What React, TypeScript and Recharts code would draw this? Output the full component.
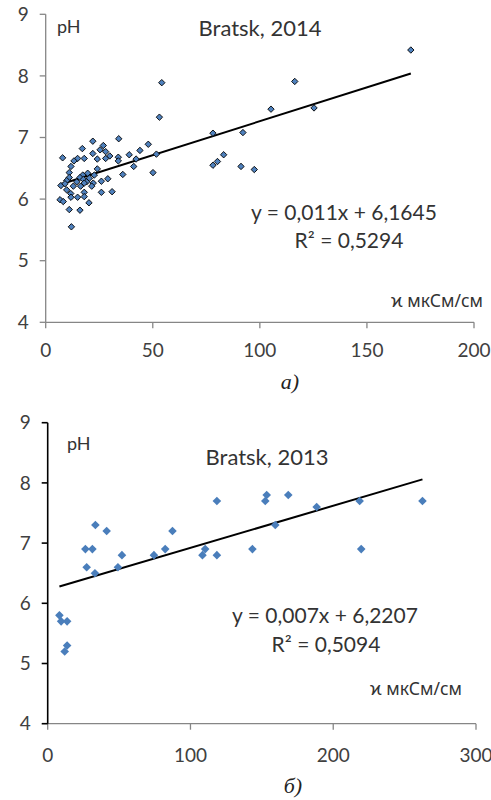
import React from "react";
import { ScatterChart, Scatter, XAxis, YAxis, ReferenceLine } from "recharts";

// ---- Bratsk 2014 (top chart) ----
const x2014 = [
  54.2, 53.1, 22.0, 34.1, 17.1, 26.9, 25.4, 28.0, 22.0, 47.9, 44.0, 7.9, 14.9, 18.0, 13.2, 24.1, 29.9, 28.0, 33.9, 33.9,
  39.0, 42.2, 51.7, 41.1, 11.8, 24.1, 11.0, 36.0, 50.1, 17.3, 19.6, 22.7, 11.0, 16.0, 17.6, 20.4, 29.0, 26.0, 14.5, 9.8,
  19.1, 22.2, 7.1, 9.0, 12.9, 16.3, 18.0, 21.5, 9.8, 11.7, 18.0, 26.0, 31.0, 11.8, 14.9, 18.0, 6.7, 8.2, 20.2, 11.0,
  16.0, 12.0, 170.5, 116.3, 105.2, 125.3, 78.1, 92.1, 83.1, 80.2, 78.1, 91.2, 97.4,
];
const y2014 = [
  7.89, 7.33, 6.94, 6.98, 6.82, 6.87, 6.8, 6.77, 6.74, 6.89, 6.79, 6.67, 6.66, 6.66, 6.62, 6.65, 6.7, 6.66, 6.68, 6.62,
  6.72, 6.65, 6.73, 6.53, 6.53, 6.49, 6.43, 6.4, 6.43, 6.39, 6.42, 6.39, 6.35, 6.35, 6.32, 6.34, 6.33, 6.29, 6.28, 6.3,
  6.28, 6.26, 6.22, 6.25, 6.21, 6.21, 6.26, 6.21, 6.15, 6.09, 6.11, 6.11, 6.12, 6.03, 6.03, 6.04, 5.99, 5.96, 5.94, 5.83,
  5.82, 5.55, 8.42, 7.91, 7.46, 7.48, 7.07, 7.08, 6.72, 6.61, 6.55, 6.53, 6.48,
];
const trend2014 = { slope: 0.011, intercept: 6.1645 };
const xTicks2014 = [0, 50, 100, 150, 200];

// ---- Bratsk 2013 (bottom chart) ----
const x2013 = [
  8.2, 9.4, 13.6, 13.6, 11.9, 33.4, 41.3, 26.4, 31.3, 52.0, 27.3, 33.1, 49.2, 74.4, 82.3, 87.4, 108.4, 110.3, 118.5,
  118.5, 143.4, 153.4, 152.4, 168.5, 159.4, 188.4, 218.5, 219.6, 262.5,
];
const y2013 = [
  5.8, 5.7, 5.7, 5.3, 5.2, 7.3, 7.2, 6.9, 6.9, 6.8, 6.6, 6.5, 6.6, 6.8, 6.9, 7.2, 6.8, 6.9, 6.8, 7.7, 6.9, 7.8, 7.7, 7.8,
  7.3, 7.6, 7.7, 6.9, 7.7,
];
const trend2013 = { slope: 0.007, intercept: 6.2207 };
const xTicks2013 = [0, 100, 200, 300];

const yTicks = [4, 5, 6, 7, 8, 9];

const toPoints = (xs: number[], ys: number[]) => xs.map((x, i) => ({ x, y: ys[i] }));
const trendSegment = (xs: number[], t: { slope: number; intercept: number }) => {
  const x0 = Math.min(...xs);
  const x1 = Math.max(...xs);
  return [
    { x: x0, y: t.slope * x0 + t.intercept },
    { x: x1, y: t.slope * x1 + t.intercept },
  ];
};

const makeDiamond = (r: number, fill: string, stroke: string, sw: number) => (props: any) => {
  const { cx, cy } = props;
  if (cx == null || cy == null) return null;
  return (
    <polygon
      points={`${cx},${cy - r} ${cx + r},${cy} ${cx},${cy + r} ${cx - r},${cy}`}
      fill={fill}
      stroke={stroke}
      strokeWidth={sw}
    />
  );
};

const TICK_FONT = "Lato, 'Noto Sans', sans-serif";
const tickStyle = { fontSize: 19, fill: "#404040", fontFamily: TICK_FONT };

export default function App() {
  const data2014 = toPoints(x2014, y2014);
  const data2013 = toPoints(x2013, y2013);
  return (
    <div style={{ position: "absolute", left: 0, top: 0, width: 491, height: 800, background: "#fff" }}>
      <div style={{ position: "absolute", left: 0, top: 0 }}>
        <ScatterChart width={491} height={360} margin={{ top: 14.3, right: 17, bottom: 0, left: 0 }}>
          <XAxis
            type="number"
            dataKey="x"
            domain={[0, 200]}
            ticks={xTicks2014}
            height={37.7}
            stroke="#868686"
            strokeWidth={1.3}
            tickSize={6}
            tickMargin={15}
            tick={tickStyle}
            interval={0}
          />
          <YAxis
            type="number"
            dataKey="y"
            domain={[4, 9]}
            ticks={yTicks}
            width={45.7}
            stroke="#868686"
            strokeWidth={1.3}
            tickSize={6}
            tickMargin={11}
            tick={tickStyle}
            interval={0}
          />
          <ReferenceLine segment={trendSegment(x2014, trend2014)} stroke="#000" strokeWidth={2} ifOverflow="visible" />
          <Scatter data={data2014} isAnimationActive={false} shape={makeDiamond(3.2, "#4F81BD", "#000", 0.9)} />
        </ScatterChart>
      </div>
      <div style={{ position: "absolute", left: 0, top: 408 }}>
        <ScatterChart width={491} height={360} margin={{ top: 14.7, right: 15, bottom: 0, left: 0 }}>
          <XAxis
            type="number"
            dataKey="x"
            domain={[0, 300]}
            ticks={xTicks2013}
            height={44.3}
            stroke="#868686"
            strokeWidth={1.3}
            tickSize={6}
            tickMargin={18.5}
            tick={tickStyle}
            interval={0}
          />
          <YAxis
            type="number"
            dataKey="y"
            domain={[4, 9]}
            ticks={yTicks}
            width={47.7}
            stroke="#000"
            strokeWidth={1.6}
            tickSize={6}
            tickMargin={11}
            tick={tickStyle}
            interval={0}
          />
          <ReferenceLine segment={trendSegment(x2013, trend2013)} stroke="#000" strokeWidth={2} ifOverflow="visible" />
          <Scatter data={data2013} isAnimationActive={false} shape={makeDiamond(4.3, "#4A7EBB", "none", 0)} />
        </ScatterChart>
      </div>
      <svg
        width={491}
        height={800}
        style={{ position: "absolute", left: 0, top: 0, pointerEvents: "none" }}
      >
        <g fontFamily={TICK_FONT} fill="#333">
          <text x={57} y={33} fontSize={18}>pH</text>
          <text x={260} y={36} fontSize={22} textAnchor="middle">Bratsk, 2014</text>
          <text x={344} y={220} fontSize={21} textAnchor="middle">y = 0,011x + 6,1645</text>
          <text x={349} y={248} fontSize={21} textAnchor="middle">R² = 0,5294</text>

          <text x={67} y={450} fontSize={18}>pH</text>
          <text x={267} y={465} fontSize={22} textAnchor="middle">Bratsk, 2013</text>
          <text x={325} y={623} fontSize={21} textAnchor="middle">y = 0,007x + 6,2207</text>
          <text x={326} y={652} fontSize={21} textAnchor="middle">R² = 0,5094</text>
        </g>
        <g fontFamily="'Noto Sans', 'DejaVu Sans', sans-serif" fill="#333" fontSize={17.5}>
          <text x={483} y={307} textAnchor="end">ϰ мкСм/см</text>
          <text x={462} y={695} textAnchor="end">ϰ мкСм/см</text>
        </g>
        <g fontFamily="'Liberation Serif', 'DejaVu Serif', serif" fontStyle="italic" fill="#222" fontSize={22}>
          <text x={290} y={389} textAnchor="middle">а)</text>
          <text x={293} y={793} textAnchor="middle">б)</text>
        </g>
      </svg>
    </div>
  );
}
